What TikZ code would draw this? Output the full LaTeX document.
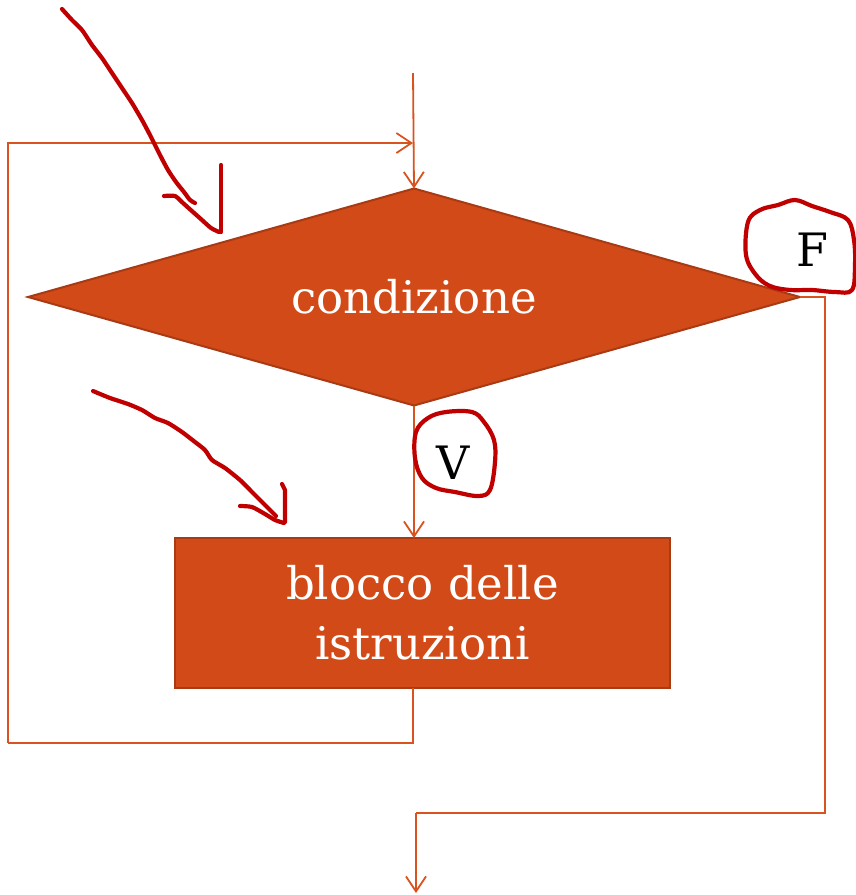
\documentclass[tikz,border=0pt]{standalone}
\usepackage{fontspec}
\setmainfont{DejaVu Serif}
\usetikzlibrary{arrows.meta,shapes.geometric}
\definecolor{orfill}{HTML}{D24A18}
\definecolor{orline}{HTML}{D9531E}
\definecolor{ordark}{HTML}{A83A14}
\definecolor{pen}{HTML}{C00000}
\tikzset{
  conn/.style={draw=orline,line width=1.8pt},
  arr/.style={conn,-{Straight Barb[length=15pt,width=20pt,line width=1.8pt]}},
  shapebox/.style={fill=orfill,draw=ordark,line width=2pt,text=white,font=\fontsize{45}{60}\selectfont,align=center,inner sep=0pt,outer sep=0pt},
  whitetext/.style={text=white,font=\fontsize{45}{60}\selectfont,inner sep=0pt},
  pen/.style={draw=pen,line width=4.2pt,line cap=round,line join=round},
  lab/.style={font=\fontsize{46}{46}\selectfont,text=black,inner sep=0pt}
}
\begin{document}
\begin{tikzpicture}[x=1pt,y=-1pt]
\useasboundingbox (0,0) rectangle (855,895);
% shapes
\node[shapebox,diamond,minimum width=772pt,minimum height=217pt,
      label={[whitetext]center:condizione}] (cond) at (414,297) {};
\node[shapebox,rectangle,minimum width=495pt,minimum height=150pt] (blk) at (422.5,613) {blocco delle\\istruzioni};
% coordinates
\coordinate (top) at (413,73);
\coordinate (ltop) at (8,143);
\coordinate (mtop) at (413,143);
\coordinate (lbot) at (8,743);
\coordinate (mbot) at (413,743);
\coordinate (rtop) at (825,297);
\coordinate (rbot) at (825,813);
\coordinate (cbot) at (416,813);
\coordinate (out) at (416,893);
% connectors
\draw[arr] (top) -- (cond.north);
\draw[arr] (lbot) -- (ltop) -- (mtop);
\draw[conn] (blk.south -| mbot) -- (mbot) -- (lbot);
\draw[arr] (cond.south) -- (blk.north -| cond.south);
\draw[conn] (cond.east) -- (rtop) -- (rbot) -- (cbot);
\draw[arr] (cbot) -- (out);
% labels
\node[lab] (F) at (812,250) {F};
\node[lab] (V) at (453,463) {V};
% hand-drawn circles
\draw[pen] plot[smooth cycle,tension=0.6] coordinates {(748,222) (760,210) (778,205) (795,200) (812,206) (830,212) (848,220) (854,240) (855,265) (852,290) (835,292) (812,290) (790,290) (770,286) (756,275) (746,255)};
\draw[pen] plot[smooth cycle,tension=0.6] coordinates {(416,432) (428,418) (446,412) (472,412) (484,422) (494,440) (495,462) (490,490) (478,496) (455,492) (436,488) (422,478) (415,458)};
% hand-drawn arrows
\draw[pen] plot[smooth,tension=0.4] coordinates {(62,9) (72,20) (82,30) (92,45) (102,58) (112,73) (122,88) (132,103) (142,120) (150,135) (160,155) (168,170) (176,182) (184,192) (190,200) (195,203)};
\draw[pen] plot[smooth,tension=0.4] coordinates {(164,196) (175,196) (183,203) (193,212) (202,220) (211,228) (219,232)};
\draw[pen] (221,232) -- (221,165);
\draw[pen] plot[smooth,tension=0.4] coordinates {(93,391) (110,398) (128,404) (142,410) (155,418) (168,423) (182,432) (195,442) (205,450) (212,460) (225,468) (240,480) (252,492) (262,502) (270,510) (276,516)};
\draw[pen] plot[smooth,tension=0.4] coordinates {(240,506) (252,507) (265,514) (275,520) (284,523)};
\draw[pen] (285,522) -- (285,490) -- (282,484);
\end{tikzpicture}
\end{document}
